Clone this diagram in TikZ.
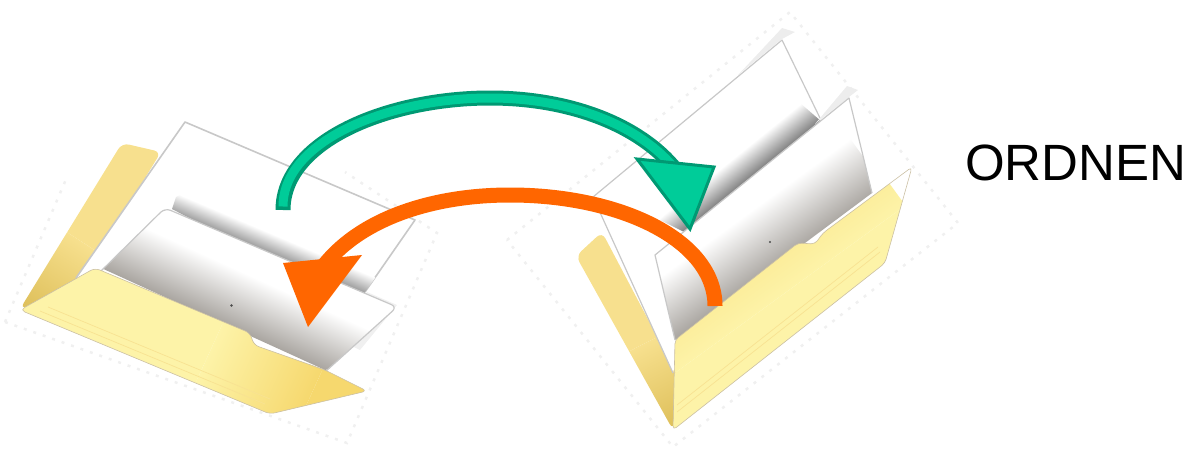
\documentclass[tikz,border=0pt]{standalone}
\usepackage{fontspec}
\setmainfont{Liberation Sans}
\definecolor{grD}{HTML}{009973}
\definecolor{grL}{HTML}{00CC99}
\definecolor{orA}{HTML}{FF6600}
\definecolor{foldA}{HTML}{FDF3A8}
\definecolor{foldB}{HTML}{F6D86E}
\definecolor{flapA}{HTML}{F7E08E}
\definecolor{flapB}{HTML}{DDBE58}
\definecolor{edgeF}{HTML}{A89668}
\definecolor{paperE}{HTML}{C8C8C8}
\definecolor{shadeG}{HTML}{A9A5A0}
\definecolor{shadowG}{HTML}{808080}
\tikzset{
  paper/.style={draw=paperE,line width=1.6pt,line join=round},
  halo/.style={draw=black!6,line width=2.5pt,dash pattern=on 3pt off 7pt},
  foldedge/.style={draw=edgeF!60,line width=.6pt,line join=round},
  crease/.style={draw=foldB!75!white,line width=.7pt},
  greenline/.style={draw=grD,line width=15pt},
  greencore/.style={draw=grL,line width=9pt},
  greenhead/.style={fill=grL,draw=grD,line width=3pt,line join=miter},
  orangeline/.style={draw=orA,line width=15pt},
  orangehead/.style={fill=orA},
  speck/.style={fill=black!70},
  paperfade/.style={top color=white,middle color=white!78!shadeG,bottom color=shadeG},
  label/.style={inner sep=0pt,anchor=base west,font=\fontsize{51}{60}\selectfont}
}
\begin{document}
\begin{tikzpicture}[x=1pt,y=-1pt]
\useasboundingbox (0,0) rectangle (1193,463);
% faint outlines of the pictures
\draw[halo] (5,322) -- (67,177);
\draw[halo] (5,322) -- (347,443) -- (437,233) -- (345,172);
\draw[halo] (507,240) -- (790,12) -- (958,223) -- (673,447) -- cycle;

% ---------- left folder ----------
\begin{scope}
  \clip[rounded corners=7pt] (20,309) -- (122,143) -- (161,152) -- (76,290) -- cycle;
  \begin{scope}[transform canvas={shift={(20,309)},rotate=57}]
    \shade[left color=flapB,right color=flapA] (0,-90) rectangle (90,90);
    \fill[flapA] (90,-90) rectangle (220,90);
  \end{scope}
\end{scope}
\fill[white] (76,278) -- (185,122) -- (415,220) -- (365,292) -- (300,340) -- cycle;
\draw[paper] (76,278) -- (185,122) -- (415,220) -- (365,292);
\begin{scope}
  \clip (172,209) -- (176,197) -- (190,190) -- (415,222) -- (365,292) -- (365,310) -- cycle;
  \begin{scope}[transform canvas={shift={(165,210)},rotate=-23}]
    \shade[top color=white,bottom color=shadowG] (-10,-20) rectangle (250,4);
  \end{scope}
\end{scope}
\fill[black!6] (367,292) -- (397,305) -- (360,350) -- (340,340) -- cycle;
\fill[white,rounded corners=6pt] (100,272) -- (165,208) -- (397,307) -- (325,372) -- cycle;
\begin{scope}
  \clip[rounded corners=6pt] (100,272) -- (165,208) -- (397,307) -- (325,372) -- cycle;
  \begin{scope}[transform canvas={shift={(110,272)},rotate=-24.5}]
    \shade[paperfade] (-30,0) rectangle (260,-55);
  \end{scope}
\end{scope}
\draw[paper,line width=1.2pt,rounded corners=6pt] (100,272) -- (165,208) -- (397,307) -- (325,372);
\fill[speck] (231.5,305.5) circle (1.4);
\begin{scope}
  \clip[rounded corners=5pt] (20,310) -- (95,268) -- (250,333) -- (254,345) -- (325,370) -- (367,391) -- (270,414) -- cycle;
  \begin{scope}[transform canvas={shift={(20,310)},rotate=-24.5}]
    \shade[left color=foldA,right color=foldB] (190,-80) rectangle (300,80);
    \fill[foldA] (-10,-80) rectangle (190,80);
    \fill[foldB] (300,-80) rectangle (400,80);
  \end{scope}
\end{scope}
\draw[foldedge,rounded corners=5pt] (20,310) -- (95,268) -- (250,333) -- (254,345) -- (325,370) -- (367,391) -- (270,414) -- cycle;
\draw[crease] (40,311) -- (265,404);
\draw[crease] (48,307) -- (270,399);

% ---------- right folder ----------
\begin{scope}
  \clip[rounded corners=7pt] (673,430) -- (576,256) -- (602,232) -- (680,380) -- cycle;
  \begin{scope}[transform canvas={shift={(673,430)},rotate=117}]
    \shade[left color=flapB,right color=flapA] (0,-90) rectangle (90,90);
    \fill[flapA] (90,-90) rectangle (240,90);
  \end{scope}
\end{scope}
\fill[white] (593,197) -- (782,40) -- (822,125) -- (690,300) -- (673,373) -- cycle;
\draw[paper,line width=1.2pt] (673,373) -- (593,197) -- (782,40) -- (820,118);
\begin{scope}
  \clip (700,240) -- (822,122) -- (785,90) -- (660,220) -- cycle;
  \begin{scope}[transform canvas={shift={(655,255)},rotate=39}]
    \shade[top color=white,bottom color=shadowG] (-10,-26) rectangle (260,0);
  \end{scope}
\end{scope}
\begin{scope}
  \clip (782,39) -- (738,75) -- (782,28) -- (795,32) -- cycle;
  \fill[black!7] (730,20) rectangle (800,80);
\end{scope}
\begin{scope}
  \clip (849,97) -- (815,124) -- (847,86) -- (858,90) -- cycle;
  \fill[black!7] (810,80) rectangle (860,130);
\end{scope}
\fill[white] (655,255) -- (849,98) -- (872,193) -- (675,340) -- cycle;
\begin{scope}
  \clip (655,255) -- (849,98) -- (872,193) -- (675,340) -- cycle;
  \begin{scope}[transform canvas={shift={(675,340)},rotate=36}]
    \shade[paperfade] (-30,0) rectangle (260,-60);
  \end{scope}
\end{scope}
\draw[paper,line width=1.2pt] (675,340) -- (655,255) -- (849,98) -- (872,193);
\fill[speck] (770,242) circle (1.2);
\begin{scope}
  \clip[rounded corners=4pt] (675,340) -- (798,243) -- (815,244) -- (823,233) -- (912,167) -- (885,263) -- (673,430) -- cycle;
  \begin{scope}[transform canvas={shift={(673,430)},rotate=36}]
    \shade[top color=foldB,bottom color=foldA] (-50,-190) rectangle (320,-45);
    \fill[foldA] (-50,-45) rectangle (320,20);
  \end{scope}
\end{scope}
\draw[foldedge,rounded corners=4pt] (675,340) -- (798,243) -- (815,244) -- (823,233) -- (912,167) -- (885,263) -- (673,430) -- cycle;
\draw[crease] (677,412) -- (880,252);
\draw[crease] (677,405) -- (878,247);

% ---------- arrows ----------
\coordinate (gS) at (283,210);
\coordinate (gT) at (490,98);
\coordinate (gE) at (676,170);
\coordinate (oS) at (715,306);
\coordinate (oT) at (510,195);
\coordinate (oE) at (322,268);
\draw[greenline] (gS) .. controls (283,140) and (390,98) .. (gT) .. controls (570,98) and (640,125) .. (gE);
\draw[greencore] (283,206.5) .. controls (283,140) and (390,98) .. (gT) .. controls (570,98) and (640,125) .. (gE);
\draw[greenhead] (637,159) -- (714,167) -- (690,229) -- cycle;
\draw[orangeline] (oS) .. controls (715,240) and (620,195) .. (oT) .. controls (430,195) and (358,220) .. (oE);
\fill[orangehead] (283,263) -- (362,255) -- (308,327) -- cycle;

\node[label] (ordnen) at (965,180) {ORDNEN};
\end{tikzpicture}
\end{document}
